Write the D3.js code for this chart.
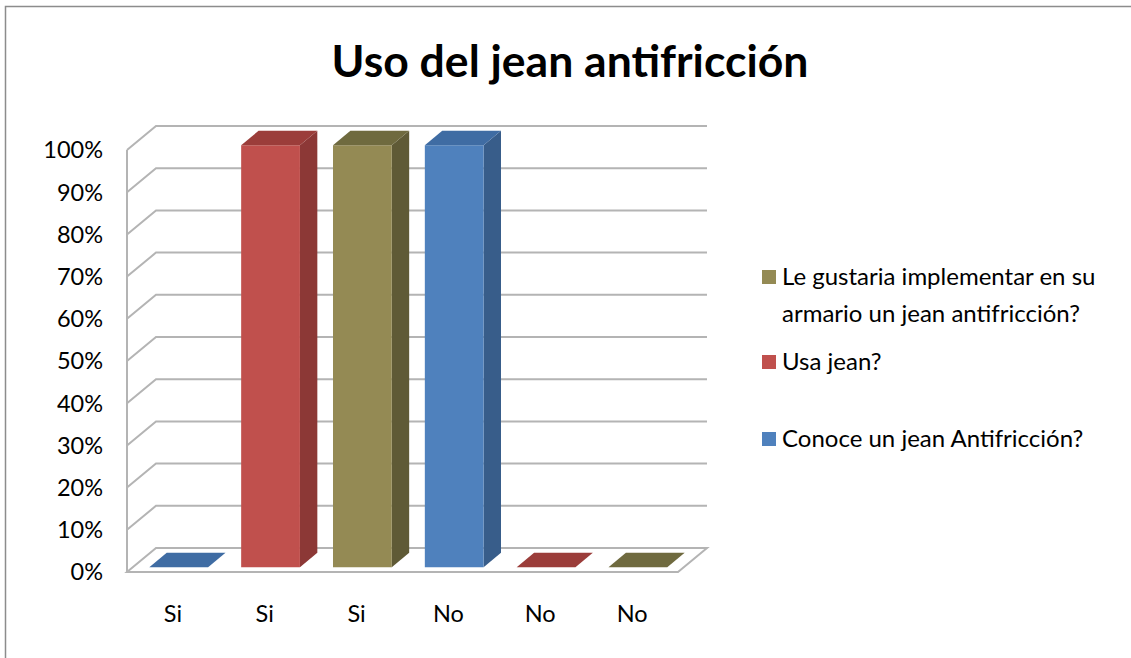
<!DOCTYPE html>
<html>
<head>
<meta charset="utf-8">
<script src="https://cdn.jsdelivr.net/npm/d3@7"></script>
<style>
  body { margin: 0; background: #fff; }
  svg { font-family: Lato, "Open Sans", sans-serif; }
</style>
</head>
<body>
<svg width="1131" height="658"></svg>
<script>
// chart data
var categories = ["Si", "Si", "Si", "No", "No", "No"];
var values = [0, 1, 1, 1, 0, 0];
var barSeries = ["Conoce un jean Antifricción?", "Usa jean?", "Le gustaria implementar en su armario un jean antifricción?",
  "Conoce un jean Antifricción?", "Usa jean?", "Le gustaria implementar en su armario un jean antifricción?"];
var legendItems = ["Le gustaria implementar en su armario un jean antifricción?", "Usa jean?", "Conoce un jean Antifricción?"];
var yTicks = [0, 0.1, 0.2, 0.3, 0.4, 0.5, 0.6, 0.7, 0.8, 0.9, 1];

var palette = {
  "Conoce un jean Antifricción?": { front: "#4f81bd", side: "#385d8a", top: "#3f6ca3" },
  "Usa jean?": { front: "#c0504d", side: "#8c3836", top: "#9b3d3a" },
  "Le gustaria implementar en su armario un jean antifricción?": { front: "#948a54", side: "#5f5a36", top: "#6f6a3f" }
};

var svg = d3.select("svg");

// outer frame
svg.append("rect")
  .attr("x", 5.5).attr("y", 6.5)
  .attr("width", 1140).attr("height", 670)
  .attr("fill", "none").attr("stroke", "#8c8c8c").attr("stroke-width", 1.5);

svg.append("text")
  .attr("x", 570).attr("y", 77)
  .attr("text-anchor", "middle")
  .style("font-size", "44.5px").style("font-weight", "bold")
  .text("Uso del jean antifricción");

var left = 127, right = 678, DX = 29, DY = -24;

var x = d3.scaleBand()
  .domain(d3.range(categories.length))
  .range([left, right]);

var y = d3.scaleLinear()
  .domain([0, 1])
  .range([572, 150]);

function p(xv, yv, z) {
  return [xv + z * DX, yv + z * DY];
}
function poly(pts) {
  return pts.map(function(d) { return d.join(","); }).join(" ");
}

var grid = svg.append("g");

// floor
grid.append("polygon")
  .attr("points", poly([p(left, y(0), 0), p(right, y(0), 0), p(right, y(0), 1), p(left, y(0), 1)]))
  .attr("fill", "#fff").attr("stroke", "#b4b4b4").attr("stroke-width", 2);

// gridlines on back + side wall
yTicks.forEach(function(t) {
  if (t === 0) return;
  var a = p(left, y(t), 0), b = p(left, y(t), 1), c = p(right, y(t), 1);
  grid.append("polyline")
    .attr("points", poly([a, b, c]))
    .attr("fill", "none").attr("stroke", "#b4b4b4").attr("stroke-width", 2);
});
grid.append("line")
  .attr("x1", left).attr("x2", left)
  .attr("y1", y(0)).attr("y2", y(1))
  .attr("stroke", "#b4b4b4").attr("stroke-width", 2);

// y labels
svg.append("g").selectAll("text")
  .data(yTicks)
  .enter().append("text")
  .attr("x", 103)
  .attr("y", function(d) { return y(d); })
  .attr("dy", "0.36em")
  .attr("text-anchor", "end")
  .style("font-size", "23.5px")
  .text(function(d) { return Math.round(d * 100) + "%"; });

// bars
var z0 = 0.2, z1 = 0.8;
var bw = x.bandwidth() * 0.64;
var bars = svg.append("g");
values.forEach(function(v, i) {
  var col = palette[barSeries[i]];
  var cx = x(i) + x.bandwidth() / 2;
  var x0 = cx - bw / 2, x1 = cx + bw / 2;
  var yb = y(0), yt = y(v);
  var g = bars.append("g");
  if (v > 0) {
    g.append("polygon")
      .attr("points", poly([p(x1, yt, z0), p(x1, yt, z1), p(x1, yb, z1), p(x1, yb, z0)]))
      .attr("fill", col.side);
    g.append("polygon")
      .attr("points", poly([p(x0, yb, z0), p(x1, yb, z0), p(x1, yt, z0), p(x0, yt, z0)]))
      .attr("fill", col.front);
  }
  g.append("polygon")
    .attr("points", poly([p(x0, yt, z0), p(x1, yt, z0), p(x1, yt, z1), p(x0, yt, z1)]))
    .attr("fill", col.top);
});

// x labels
svg.append("g").selectAll("text")
  .data(categories)
  .enter().append("text")
  .attr("x", function(d, i) { return x(i) + x.bandwidth() / 2; })
  .attr("y", 622)
  .attr("text-anchor", "middle")
  .style("font-size", "23.5px")
  .text(function(d) { return d; });

// legend
var legendLines = [
  ["Le gustaria implementar en su", "armario un jean antifricción?"],
  ["Usa jean?"],
  ["Conoce un jean Antifricción?"]
];
var legendY = [285, 370, 447];
var legend = svg.append("g");
legendItems.forEach(function(name, i) {
  legend.append("rect")
    .attr("x", 762).attr("y", legendY[i] - 15)
    .attr("width", 14).attr("height", 14)
    .attr("fill", palette[name].front);
  var t = legend.append("text")
    .attr("x", 782).attr("y", legendY[i])
    .style("font-size", "24px");
  legendLines[i].forEach(function(line, j) {
    t.append("tspan").attr("x", 782).attr("dy", j ? 37 : 0).text(line);
  });
});
</script>
</body>
</html>
